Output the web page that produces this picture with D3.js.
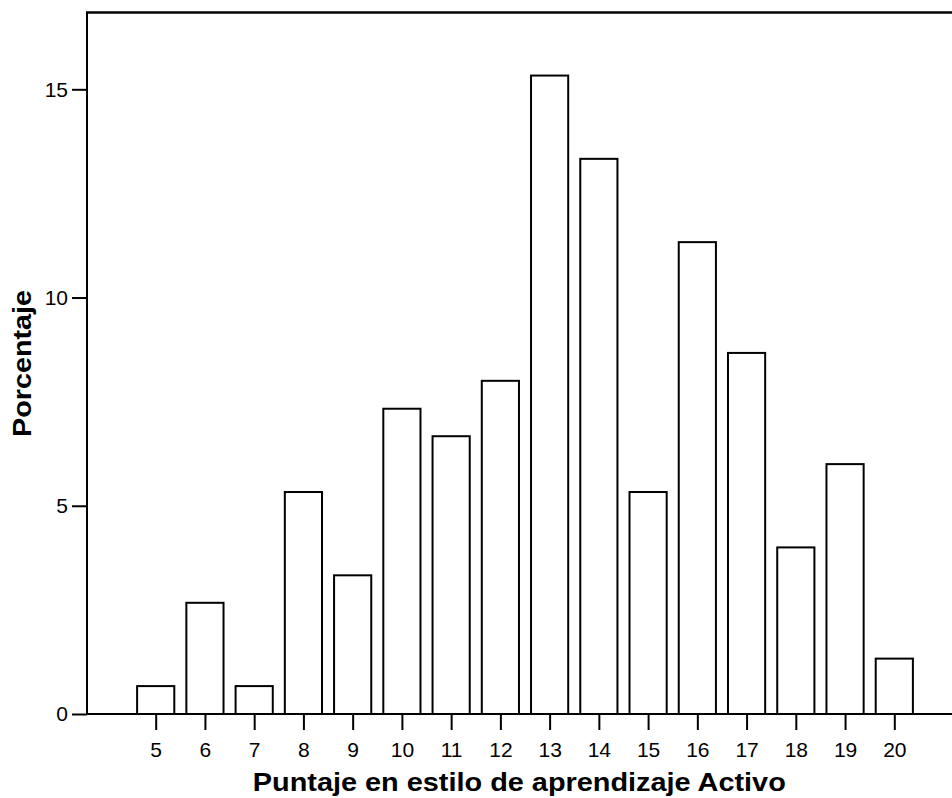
<!DOCTYPE html>
<html>
<head>
<meta charset="utf-8">
<script src="https://cdn.jsdelivr.net/npm/d3@7"></script>
<style>
  html, body { margin: 0; padding: 0; background: #fff; }
  svg { display: block; }
  text { font-family: "Liberation Sans", Arial, Helvetica, sans-serif; fill: #000; }
  .tick text { font-size: 21px; }
</style>
</head>
<body>
<svg id="chart" width="952" height="798"></svg>
<script>
// Data
const categories = [5, 6, 7, 8, 9, 10, 11, 12, 13, 14, 15, 16, 17, 18, 19, 20];
const percentages = [0.67, 2.67, 0.67, 5.33, 3.33, 7.33, 6.67, 8.0, 15.33, 13.33, 5.33, 11.33, 8.67, 4.0, 6.0, 1.33];
const yTicks = [0, 5, 10, 15];
const xTitle = "Puntaje en estilo de aprendizaje Activo";
const yTitle = "Porcentaje";

const svg = d3.select("#chart");
const plotLeft = 87, plotRight = 952, plotTop = 12.5, plotBottom = 714;

const x = d3.scaleLinear().domain([5, 20]).range([155.7, 894.3]);
const y = d3.scaleLinear().domain([0, 15]).range([plotBottom, 89.3]);
const step = x(6) - x(5);
const barW = step * 0.755;

// Bars
svg.append("g").selectAll("rect")
  .data(categories.map((c, i) => ({ c, v: percentages[i] })))
  .join("rect")
  .attr("x", d => x(d.c) - barW / 2)
  .attr("y", d => y(d.v))
  .attr("width", barW)
  .attr("height", d => y(0) - y(d.v))
  .attr("fill", "#fff")
  .attr("stroke", "#000")
  .attr("stroke-width", 2);

// X axis
const xAxis = svg.append("g")
  .attr("transform", `translate(0,${plotBottom})`)
  .call(d3.axisBottom(x).tickValues(categories).tickSize(16).tickPadding(12).tickFormat(d3.format("d")))
  .attr("font-size", 21)
  .attr("font-family", "Liberation Sans, Arial, sans-serif");
xAxis.select(".domain").remove();
xAxis.selectAll(".tick line").attr("stroke", "#000").attr("stroke-width", 2);
xAxis.selectAll(".tick text").attr("font-size", 21).attr("fill", "#000");

// Y axis
const yAxis = svg.append("g")
  .attr("transform", `translate(${plotLeft},0)`)
  .call(d3.axisLeft(y).tickValues(yTicks).tickSize(15).tickPadding(4).tickFormat(d3.format("d")))
  .attr("font-size", 21)
  .attr("font-family", "Liberation Sans, Arial, sans-serif");
yAxis.select(".domain").remove();
yAxis.selectAll(".tick line").attr("stroke", "#000").attr("stroke-width", 2);
yAxis.selectAll(".tick text").attr("font-size", 21).attr("fill", "#000");

// Frame lines
svg.append("line").attr("x1", plotLeft).attr("x2", plotRight).attr("y1", plotBottom).attr("y2", plotBottom)
  .attr("stroke", "#000").attr("stroke-width", 2);
svg.append("line").attr("x1", plotLeft).attr("x2", plotLeft).attr("y1", plotTop).attr("y2", plotBottom + 1)
  .attr("stroke", "#000").attr("stroke-width", 2);
svg.append("line").attr("x1", plotLeft - 1).attr("x2", plotRight).attr("y1", plotTop).attr("y2", plotTop)
  .attr("stroke", "#000").attr("stroke-width", 2.5);

// Titles
svg.append("text")
  .attr("x", 519.3).attr("y", 790.7)
  .attr("text-anchor", "middle")
  .attr("textLength", 533).attr("lengthAdjust", "spacingAndGlyphs")
  .style("font-size", "26px").style("font-weight", "bold")
  .text(xTitle);

svg.append("text")
  .attr("transform", "translate(30.5,363.5) rotate(-90)")
  .attr("text-anchor", "middle")
  .attr("textLength", 147).attr("lengthAdjust", "spacingAndGlyphs")
  .style("font-size", "26px").style("font-weight", "bold")
  .text(yTitle);
</script>
</body>
</html>
